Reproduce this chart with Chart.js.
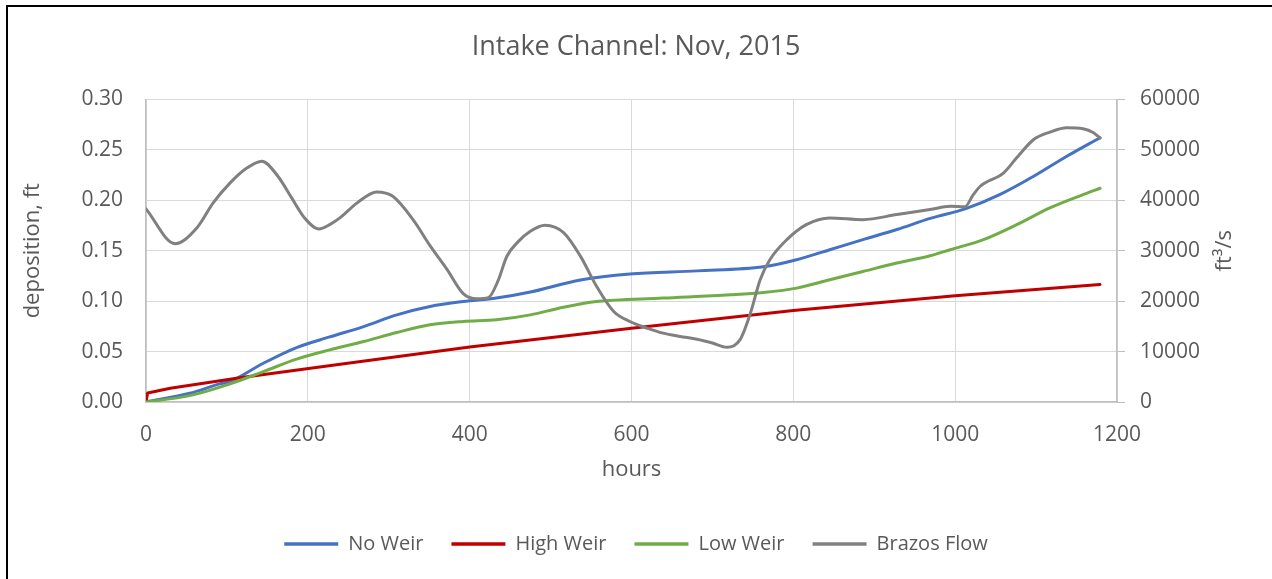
<!DOCTYPE html>
<html>
<head>
<meta charset="utf-8">
<script src="https://cdn.jsdelivr.net/npm/chart.js@4.4.1/dist/chart.umd.min.js"></script>
<style>
  html, body { margin: 0; padding: 0; background: #ffffff; }
  #wrap { position: relative; width: 1272px; height: 579px; background: #ffffff; overflow: hidden; }
  #frame { position: absolute; left: 6px; top: 5px; width: 1300px; height: 600px;
           border-left: 2px solid #000; border-top: 2px solid #000; pointer-events: none; }
  canvas { position: absolute; left: 0; top: 0; }
</style>
</head>
<body>
<div id="wrap">
  <canvas id="c" width="1272" height="579"></canvas>
  <div id="frame"></div>
</div>
<script>
// ---- data ----
const chartTitle = 'Intake Channel: Nov, 2015';
const xAxisTitle = 'hours';
const leftAxisTitle = 'deposition, ft';
const rightAxisTitle = 'ft\u00B3/s';
const seriesNames = ['No Weir', 'High Weir', 'Low Weir', 'Brazos Flow'];

const noWeirHours = [0, 54, 91, 104, 145, 186, 227, 269, 310, 351, 392, 433, 475, 537, 598, 681, 763, 804, 845, 886, 928, 969, 1014, 1055, 1097, 1138, 1179];
const noWeirValues = [0, 0.0086, 0.018, 0.0205, 0.0384, 0.054, 0.0645, 0.0748, 0.0864, 0.0947, 0.0996, 0.103, 0.109, 0.121, 0.127, 0.130, 0.134, 0.141, 0.151, 0.161, 0.171, 0.182, 0.192, 0.2056, 0.2238, 0.2437, 0.262];

const highWeirHours = [0, 2, 30, 116, 240, 400, 600, 800, 1000, 1179];
const highWeirValues = [0, 0.009, 0.0136, 0.024, 0.0375, 0.0546, 0.0732, 0.0907, 0.1053, 0.1165];

const lowWeirHours = [0, 54, 104, 145, 186, 227, 269, 310, 351, 392, 433, 475, 516, 557, 639, 722, 763, 804, 845, 886, 928, 969, 994, 1035, 1076, 1117, 1158, 1179];
const lowWeirValues = [0, 0.0063, 0.018, 0.0301, 0.0425, 0.0517, 0.060, 0.0689, 0.0765, 0.0798, 0.0815, 0.0864, 0.094, 0.0996, 0.103, 0.1063, 0.1086, 0.1129, 0.1212, 0.1294, 0.1378, 0.145, 0.151, 0.161, 0.1758, 0.1924, 0.2056, 0.2119];

const flowHours = [0, 36, 63, 83, 104, 125, 143, 163, 180, 196, 214, 227, 240, 261, 285, 305, 330, 351, 372, 392, 409, 423, 435, 446, 460, 475, 493, 516, 537, 557, 578, 598, 620, 639, 660, 681, 700, 718, 734, 747, 759, 771, 792, 816, 845, 886, 928, 969, 994, 1012, 1022, 1031, 1060, 1076, 1097, 1117, 1138, 1158, 1171, 1179];
const flowValues = [38300, 31400, 34570, 39480, 43450, 46430, 47750, 44770, 40470, 36500, 34300, 35170, 36560, 39480, 41660, 40800, 36160, 31000, 26300, 21500, 20470, 20670, 24000, 28900, 31800, 33840, 35040, 33580, 28880, 22900, 17950, 15960, 14600, 13650, 13000, 12450, 11700, 10870, 12320, 17620, 24240, 28200, 32190, 35170, 36500, 36160, 37160, 38150, 38800, 38700, 41000, 42780, 45440, 48420, 52060, 53510, 54380, 54180, 53390, 52320];

const xTickMin = 0, xTickMax = 1200, xTickStep = 200;
const leftTickMin = 0, leftTickMax = 0.30, leftTickStep = 0.05;
const rightTickMin = 0, rightTickMax = 60000, rightTickStep = 10000;

// ---- helpers ----
const toPts = (xs, ys) => xs.map((x, i) => ({ x: x, y: ys[i] }));
const TEXT = '#595959';
const FONT = '"Open Sans", sans-serif';
Chart.defaults.font.family = FONT;
Chart.defaults.color = TEXT;

const rightTitlePlugin = {
  id: 'rightTitle',
  afterDraw(chart) {
    const ctx = chart.ctx;
    const area = chart.chartArea;
    ctx.save();
    ctx.fillStyle = TEXT;
    ctx.font = '22px ' + FONT;
    ctx.textAlign = 'center';
    ctx.textBaseline = 'middle';
    ctx.translate(1225, (area.top + area.bottom) / 2);
    ctx.rotate(-Math.PI / 2);
    ctx.fillText(rightAxisTitle, 0, 0);
    ctx.restore();
  }
};

const LEGEND_PAD_BOTTOM = 15;
const mkSeries = (label, xs, ys, color, axis, order) => ({
  label: label, data: toPts(xs, ys), borderColor: color, backgroundColor: color,
  pointBorderColor: color, pointBackgroundColor: color, pointBorderWidth: 3.5,
  borderWidth: 3, yAxisID: axis, order: order
});

const dsNo = mkSeries(seriesNames[0], noWeirHours, noWeirValues, '#4472C4', 'y', 3);
const dsHigh = mkSeries(seriesNames[1], highWeirHours, highWeirValues, '#C00000', 'y', 2);
dsHigh.cubicInterpolationMode = 'default';
dsHigh.tension = 0;
const dsLow = mkSeries(seriesNames[2], lowWeirHours, lowWeirValues, '#70AD47', 'y', 1);
const dsFlow = mkSeries(seriesNames[3], flowHours, flowValues, '#808080', 'y2', 0);

new Chart(document.getElementById('c'), {
  type: 'line',
  data: { datasets: [dsNo, dsHigh, dsLow, dsFlow] },
  options: {
    responsive: false,
    animation: false,
    devicePixelRatio: 1,
    layout: { padding: { left: 0, right: 0, top: 0, bottom: LEGEND_PAD_BOTTOM } },
    elements: {
      point: { radius: 0, hoverRadius: 0 },
      line: { borderWidth: 3, cubicInterpolationMode: 'monotone', fill: false, borderCapStyle: 'round', borderJoinStyle: 'round' }
    },
    plugins: {
      title: {
        display: true, text: chartTitle, color: TEXT,
        font: { size: 27, weight: 'normal', family: FONT, lineHeight: 1.2 },
        padding: { top: 31, bottom: 36 }
      },
      legend: {
        display: true, position: 'bottom',
        labels: {
          usePointStyle: true, pointStyle: 'line', pointStyleWidth: 54,
          boxHeight: 20,
          padding: 28, color: TEXT,
          font: { size: 20, family: FONT },
          sort: (a, b) => a.datasetIndex - b.datasetIndex
        }
      },
      tooltip: { enabled: false }
    },
    scales: {
      x: {
        type: 'linear', position: 'bottom',
        min: xTickMin, max: xTickMax,
        ticks: { stepSize: xTickStep, padding: 20, color: TEXT, font: { size: 21 }, maxRotation: 0, callback: v => String(v) },
        grid: { color: '#D9D9D9', lineWidth: 1, drawTicks: false },
        border: { color: '#BFBFBF', width: 1.5 },
        title: { display: true, text: xAxisTitle, color: TEXT, font: { size: 22, lineHeight: 1.2 }, padding: { top: 0, bottom: 23 } },
        afterFit(s) {
          const lh = s.chart.legend ? s.chart.legend.height : 0;
          s.height = s.chart.height - LEGEND_PAD_BOTTOM - lh - 402;
        }
      },
      y: {
        type: 'linear', position: 'left',
        min: leftTickMin, max: leftTickMax,
        ticks: { stepSize: leftTickStep, padding: 23, color: TEXT, font: { size: 21 }, callback: v => v.toFixed(2) },
        grid: { color: '#D9D9D9', lineWidth: 1, drawTicks: false },
        border: { color: '#BFBFBF', width: 1.5 },
        title: { display: true, text: leftAxisTitle, color: TEXT, font: { size: 22, lineHeight: 1.2 }, padding: { top: 20, bottom: 0 } },
        afterFit(s) { s.width = 146; }
      },
      y2: {
        type: 'linear', position: 'right',
        min: rightTickMin, max: rightTickMax,
        ticks: { stepSize: rightTickStep, padding: 15, color: TEXT, font: { size: 21 }, callback: v => String(v) },
        grid: { drawOnChartArea: false, color: '#BFBFBF', drawTicks: true, tickLength: 8, lineWidth: 1 },
        border: { color: '#BFBFBF', width: 1.5 },
        title: { display: false },
        afterFit(s) { s.width = 1272 - 1117; }
      }
    }
  },
  plugins: [rightTitlePlugin]
});
</script>
</body>
</html>
